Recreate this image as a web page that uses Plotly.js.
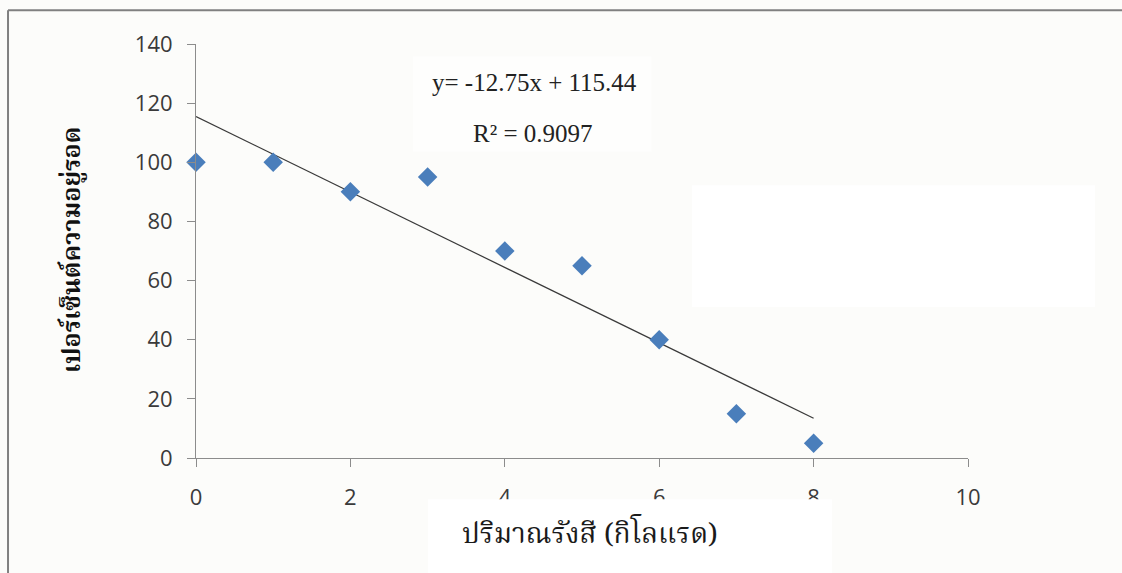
<!DOCTYPE html>
<html>
<head>
<meta charset="utf-8">
<script src="https://cdn.plot.ly/plotly-3.0.1.min.js"></script>
<style>html,body{margin:0;padding:0;background:#fcfcfa;}#chart{width:1122px;height:573px;}</style>
</head>
<body>
<div id="chart"></div>
<script>
// Data
const doseKrad = [0, 1, 2, 3, 4, 5, 6, 7, 8];
const survivalPct = [100, 100, 90, 95, 70, 65, 40, 15, 5];
const xTickVals = [0, 2, 4, 6, 8, 10];
const yTickVals = [0, 20, 40, 60, 80, 100, 120, 140];
const xLabel = "ปริมาณรังสี (กิโลแรด)";
const yLabel = "เปอร์เซ็นต์ความอยู่รอด";
const eqText = "y= -12.75x + 115.44";
const r2Text = "R² = 0.9097";

// Linear regression (trendline)
const n = doseKrad.length;
const mx = doseKrad.reduce((a,b)=>a+b,0)/n;
const my = survivalPct.reduce((a,b)=>a+b,0)/n;
let sxy=0, sxx=0;
for (let i=0;i<n;i++){ sxy += (doseKrad[i]-mx)*(survivalPct[i]-my); sxx += (doseKrad[i]-mx)**2; }
const slope = sxy/sxx, intercept = my - slope*mx;
const trendX = [doseKrad[0], doseKrad[n-1]];
const trendY = trendX.map(x => intercept + slope*x);

const thaiFont = '"Norasi", "Noto Serif Thai", "Noto Sans Thai", "Liberation Serif", serif';

const traces = [
  {x: trendX, y: trendY, mode: 'lines', line: {color: '#3a3a3a', width: 1.2}, hoverinfo: 'skip', showlegend: false, cliponaxis: false},
  {x: doseKrad, y: survivalPct, mode: 'markers', marker: {symbol: 'diamond', size: 15, color: '#4a7ebb'}, showlegend: false, cliponaxis: false}
];

const axisCommon = {
  showgrid: false, zeroline: false, showline: true, linecolor: '#8c8c8c', linewidth: 1,
  ticks: 'outside', ticklen: 8, tickcolor: '#8c8c8c', tickwidth: 1,
  tickfont: {family: '"Open Sans", "Noto Sans", sans-serif', size: 22, color: '#3a3a3a'},
  fixedrange: true
};

const layout = {
  width: 1122, height: 573,
  paper_bgcolor: '#fcfcfa', plot_bgcolor: 'rgba(0,0,0,0)',
  margin: {l: 196, r: 154, t: 44, b: 115},
  showlegend: false,
  xaxis: Object.assign({}, axisCommon, {range: [0, 10], tickvals: xTickVals, ticklabelstandoff: 12}),
  yaxis: Object.assign({}, axisCommon, {range: [0, 140], tickvals: yTickVals, ticklabelstandoff: 10}),
  shapes: [
    // white panels
    {type: 'rect', xref: 'paper', yref: 'paper', x0: 0.6425, x1: 1.1645, y0: 0.3647, y1: 0.659, fillcolor: '#ffffff', line: {width: 0}, layer: 'below'},
    {type: 'rect', xref: 'paper', yref: 'paper', x0: 0.3005, x1: 0.824, y0: -0.29, y1: -0.0998, fillcolor: '#ffffff', line: {width: 0}, layer: 'above'},
    {type: 'rect', xref: 'paper', yref: 'paper', x0: 0.281, x1: 0.59, y0: 0.74, y1: 0.97, fillcolor: '#fefefd', line: {width: 0}, layer: 'below'},
    // outer border (top & left)
    {type: 'line', xref: 'paper', yref: 'paper', x0: -0.2435, x1: 1.2, y0: 1.0815, y1: 1.0815, line: {color: '#808080', width: 2}, layer: 'above'},
    {type: 'line', xref: 'paper', yref: 'paper', x0: -0.2435, x1: -0.2435, y0: 1.0815, y1: -0.3, line: {color: '#808080', width: 2}, layer: 'above'}
  ],
  annotations: [
    {text: eqText, xref: 'paper', yref: 'paper', x: 0.439, y: 0.908, showarrow: false, xanchor: 'center', yanchor: 'middle',
     font: {family: '"Liberation Serif", "Times New Roman", serif', size: 25, color: '#222'}},
    {text: r2Text, xref: 'paper', yref: 'paper', x: 0.437, y: 0.785, showarrow: false, xanchor: 'center', yanchor: 'middle',
     font: {family: '"Liberation Serif", "Times New Roman", serif', size: 25, color: '#222'}},
    {text: xLabel, xref: 'paper', yref: 'paper', x: 0.5104, y: -0.186, showarrow: false, xanchor: 'center', yanchor: 'middle',
     font: {family: thaiFont, size: 28, color: '#1a1a1a'}},
    {text: '<b>' + yLabel + '</b>', xref: 'paper', yref: 'paper', x: -0.1593, y: 0.5024, showarrow: false, textangle: -90, xanchor: 'center', yanchor: 'middle',
     font: {family: thaiFont, size: 25, color: '#111'}}
  ]
};

Plotly.newPlot('chart', traces, layout, {displayModeBar: false, staticPlot: true});
</script>
</body>
</html>
